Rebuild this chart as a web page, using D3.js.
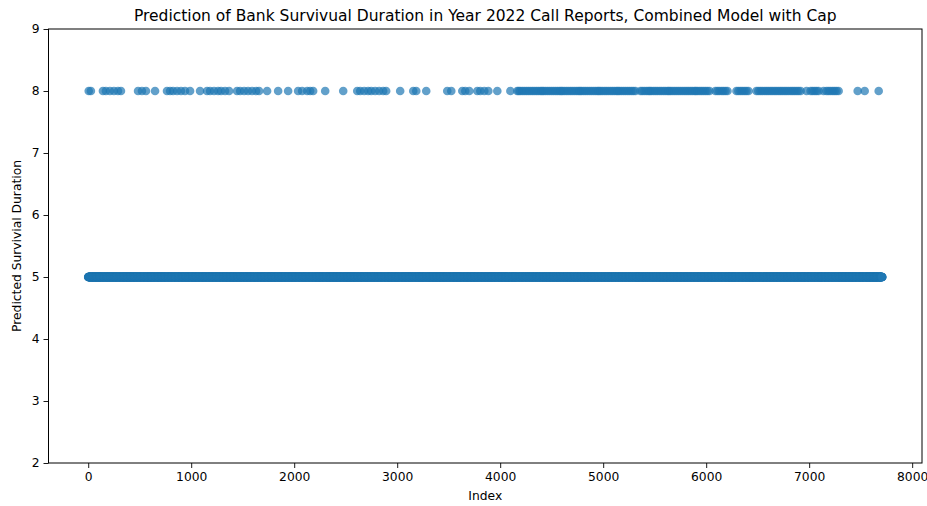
<!DOCTYPE html>
<html>
<head>
<meta charset="utf-8">
<script src="https://cdn.jsdelivr.net/npm/d3@7"></script>
<style>
body { margin: 0; background: #fff; }
text { font-family: "DejaVu Sans", sans-serif; fill: #000; }
</style>
</head>
<body>
<script>
var width = 927, height = 506;

// number of call reports (index 0 .. count-1)
var count = 7711;
// indexes predicted at 8 (everything else is predicted at 5)
var indexAt8 = [5, 26, 143, 172, 211, 250, 289, 318, 484, 522, 561, 649, 765, 795, 824, 863, 901, 940, 989,
  1086, 1154, 1183, 1222, 1261, 1290, 1329, 1368, 1445, 1475, 1514, 1552, 1591, 1630, 1659, 1737, 1844, 1941,
  2038, 2077, 2126, 2155, 2184, 2301, 2476, 2612, 2641, 2680, 2718, 2748, 2786, 2825, 2864, 2893,
  3029, 3156, 3185, 3282, 3486, 3525, 3632, 3661, 3700, 3778, 3807, 3846, 3885, 3972,
  4099, 4166, 4180, 4195, 4215, 4234, 4254, 4273, 4292, 4312, 4331, 4351, 4370, 4390, 4405, 4419, 4438, 4458,
  4477, 4497, 4516, 4536, 4555, 4574, 4590, 4603, 4622, 4642, 4661, 4681, 4700, 4720, 4740, 4759, 4774, 4788,
  4808, 4827, 4846, 4866, 4885, 4905, 4925, 4944, 4958, 4973, 4992, 5012, 5031, 5050, 5070, 5089, 5108, 5128,
  5142, 5157, 5176, 5196, 5215, 5235, 5254, 5274, 5293, 5313, 5362, 5380, 5400, 5420, 5439, 5453, 5468, 5488,
  5507, 5526, 5546, 5565, 5585, 5604, 5624, 5638, 5653, 5672, 5692, 5711, 5731, 5750, 5770, 5790, 5809, 5828,
  5847, 5866, 5886, 5900, 5915, 5935, 5954, 5973, 5993, 6012, 6032, 6090, 6110, 6129, 6150, 6168, 6188, 6207,
  6294, 6313, 6333, 6352, 6372, 6391, 6411, 6488, 6507, 6527, 6546, 6566, 6586, 6605, 6625, 6644, 6664, 6683,
  6703, 6722, 6741, 6761, 6780, 6800, 6820, 6839, 6858, 6878, 6897, 6917, 6975, 7014, 7033, 7053, 7072, 7092,
  7140, 7169, 7188, 7208, 7228, 7247, 7266, 7286, 7471, 7539, 7675];
var baseValue = 5, highValue = 8;

var xTicks = [0, 1000, 2000, 3000, 4000, 5000, 6000, 7000, 8000];
var yTicks = [2, 3, 4, 5, 6, 7, 8, 9];

var title = "Prediction of Bank Survivual Duration in Year 2022 Call Reports, Combined Model with Cap";
var xLabel = "Index";
var yLabel = "Predicted Survivial Duration";

// build points
var high = new Set(indexAt8);
var points = [];
for (var i = 0; i < count; i++) {
  points.push([i, high.has(i) ? highValue : baseValue]);
}

var margin = {left: 48.5, right: 5, top: 29, bottom: 43};
var pad = (count - 1) * 0.05;

var x = d3.scaleLinear()
  .domain([-pad, count - 1 + pad])
  .range([margin.left, width - margin.right]);
var y = d3.scaleLinear()
  .domain([2, 9])
  .range([height - margin.bottom, margin.top]);

var svg = d3.select("body").append("svg")
  .attr("width", width)
  .attr("height", height);

svg.append("g")
  .selectAll("circle")
  .data(points)
  .enter().append("circle")
  .attr("cx", function(d){ return x(d[0]); })
  .attr("cy", function(d){ return y(d[1]); })
  .attr("r", 4.3)
  .attr("fill", "#1f77b4")
  .attr("fill-opacity", 0.7);

var xAxis = svg.append("g")
  .attr("transform", "translate(0," + (height - margin.bottom) + ")")
  .call(d3.axisBottom(x).tickValues(xTicks).tickSize(5).tickPadding(4).tickFormat(d3.format("d")));
var yAxis = svg.append("g")
  .attr("transform", "translate(" + margin.left + ",0)")
  .call(d3.axisLeft(y).tickValues(yTicks).tickSize(5).tickPadding(4).tickFormat(d3.format("d")));

[xAxis, yAxis].forEach(function(g){
  g.select(".domain").remove();
  g.selectAll("text").style("font-size", "12.3px").style("font-family", "DejaVu Sans");
  g.selectAll("line").attr("stroke", "#000").attr("stroke-width", 0.9);
});

// frame
svg.append("rect")
  .attr("x", margin.left)
  .attr("y", margin.top)
  .attr("width", width - margin.right - margin.left)
  .attr("height", height - margin.bottom - margin.top)
  .attr("fill", "none")
  .attr("stroke", "#000")
  .attr("stroke-width", 1);

svg.append("text")
  .attr("x", (margin.left + width - margin.right) / 2)
  .attr("y", 21)
  .attr("text-anchor", "middle")
  .style("font-size", "15.5px")
  .text(title);

svg.append("text")
  .attr("x", (margin.left + width - margin.right) / 2)
  .attr("y", 500)
  .attr("text-anchor", "middle")
  .style("font-size", "12.3px")
  .text(xLabel);

svg.append("text")
  .attr("transform", "translate(21," + ((margin.top + height - margin.bottom) / 2) + ") rotate(-90)")
  .attr("text-anchor", "middle")
  .style("font-size", "12.3px")
  .text(yLabel);
</script>
</body>
</html>
